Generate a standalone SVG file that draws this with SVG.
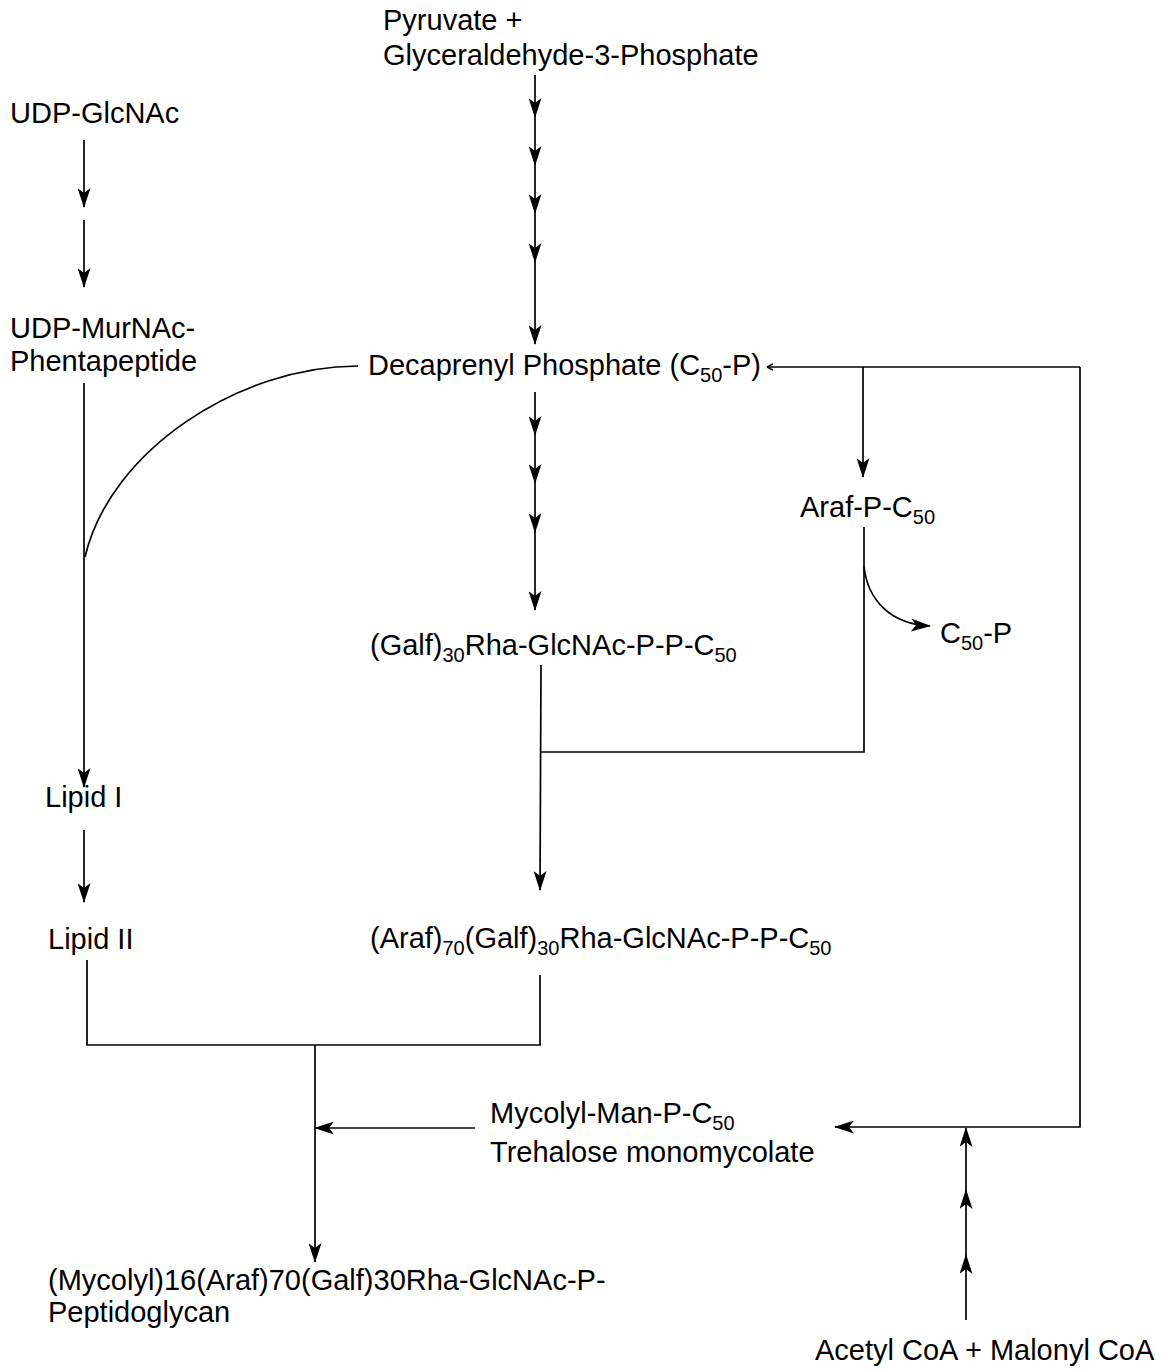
<svg xmlns="http://www.w3.org/2000/svg" width="1169" height="1372" viewBox="0 0 1169 1372">
<style>
text{font-family:"Liberation Sans",Arial,sans-serif;font-size:29px;fill:#000}
.s{font-size:20px}
.c line,.c path,.c polyline{stroke:#000;stroke-width:1.7;fill:none}
</style>
<defs>
<marker id="a" markerUnits="userSpaceOnUse" markerWidth="20" markerHeight="13" refX="19" refY="6.5" orient="auto" viewBox="0 0 20 13">
<path d="M0,0 L20,6.5 L0,13 L5,6.5 Z" fill="#000"/>
</marker>
<marker id="sm" markerUnits="userSpaceOnUse" markerWidth="8" markerHeight="8" refX="6" refY="4" orient="auto" viewBox="0 0 8 8">
<path d="M6,4 L0,1 M6,4 L0,7" stroke="#000" stroke-width="1.4" fill="none"/>
</marker>
</defs>
<rect width="1169" height="1372" fill="#fff"/>
<g id="pyruvate"><text x="383" y="30">Pyruvate +</text><text x="383" y="65">Glyceraldehyde-3-Phosphate</text></g>
<g id="udp-glcnac"><text x="10" y="123">UDP-GlcNAc</text></g>
<g id="udp-murnac"><text x="10" y="338">UDP-MurNAc-</text><text x="10" y="371">Phentapeptide</text></g>
<g id="decaprenyl"><text x="368" y="375">Decaprenyl Phosphate (C<tspan class="s" dy="7">50</tspan><tspan dy="-7">-P)</tspan></text></g>
<g id="araf-p"><text x="800" y="517">Araf-P-C<tspan class="s" dy="7">50</tspan></text></g>
<g id="c50p"><text x="940" y="643">C<tspan class="s" dy="7">50</tspan><tspan dy="-7">-P</tspan></text></g>
<g id="galf"><text x="370" y="655">(Galf)<tspan class="s" dy="7">30</tspan><tspan dy="-7">Rha-GlcNAc-P-P-C</tspan><tspan class="s" dy="7">50</tspan></text></g>
<g id="lipid1"><text x="45" y="807">Lipid I</text></g>
<g id="lipid2"><text x="48" y="949">Lipid II</text></g>
<g id="araf-galf"><text x="370" y="948">(Araf)<tspan class="s" dy="7">70</tspan><tspan dy="-7">(Galf)</tspan><tspan class="s" dy="7">30</tspan><tspan dy="-7">Rha-GlcNAc-P-P-C</tspan><tspan class="s" dy="7">50</tspan></text></g>
<g id="mycolyl"><text x="490" y="1123">Mycolyl-Man-P-C<tspan class="s" dy="7">50</tspan></text><text x="490" y="1162">Trehalose monomycolate</text></g>
<g id="product"><text x="48" y="1290">(Mycolyl)16(Araf)70(Galf)30Rha-GlcNAc-P-</text><text x="48" y="1322">Peptidoglycan</text></g>
<g id="acetyl"><text x="815" y="1360">Acetyl CoA + Malonyl CoA</text></g>
<g class="c" id="connectors">
<line x1="535" y1="75" x2="535" y2="117" marker-end="url(#a)"/>
<line x1="535" y1="117" x2="535" y2="165" marker-end="url(#a)"/>
<line x1="535" y1="165" x2="535" y2="213" marker-end="url(#a)"/>
<line x1="535" y1="213" x2="535" y2="262" marker-end="url(#a)"/>
<line x1="535" y1="262" x2="535" y2="344" marker-end="url(#a)"/>
<line x1="535" y1="392" x2="535" y2="435" marker-end="url(#a)"/>
<line x1="535" y1="435" x2="535" y2="483" marker-end="url(#a)"/>
<line x1="535" y1="483" x2="535" y2="532" marker-end="url(#a)"/>
<line x1="535" y1="532" x2="535" y2="610" marker-end="url(#a)"/>
<line x1="84" y1="140" x2="84" y2="207" marker-end="url(#a)"/>
<line x1="84" y1="220" x2="84" y2="287" marker-end="url(#a)"/>
<line x1="84" y1="383" x2="84" y2="787" marker-end="url(#a)"/>
<line x1="84" y1="830" x2="84" y2="902" marker-end="url(#a)"/>
<path d="M358,366 C240,366 110,450 85,557"/>
<line x1="1080" y1="367" x2="767" y2="367" marker-end="url(#sm)"/>
<polyline points="1080,367 1080,1127 835,1127" marker-end="url(#a)"/>
<line x1="863" y1="367" x2="863" y2="477" marker-end="url(#a)"/>
<polyline points="864,527 864,752 540,752"/>
<path d="M864,567 C868,600 890,624 930,626" marker-end="url(#a)"/>
<line x1="541" y1="665" x2="540" y2="890" marker-end="url(#a)"/>
<polyline points="87,960 87,1045 540,1045 540,975"/>
<line x1="315" y1="1045" x2="315" y2="1262" marker-end="url(#a)"/>
<line x1="475" y1="1128" x2="315" y2="1128" marker-end="url(#a)"/>
<line x1="966" y1="1320" x2="966" y2="1255" marker-end="url(#a)"/>
<line x1="966" y1="1255" x2="966" y2="1190" marker-end="url(#a)"/>
<line x1="966" y1="1190" x2="966" y2="1128" marker-end="url(#a)"/>
</g>
</svg>
